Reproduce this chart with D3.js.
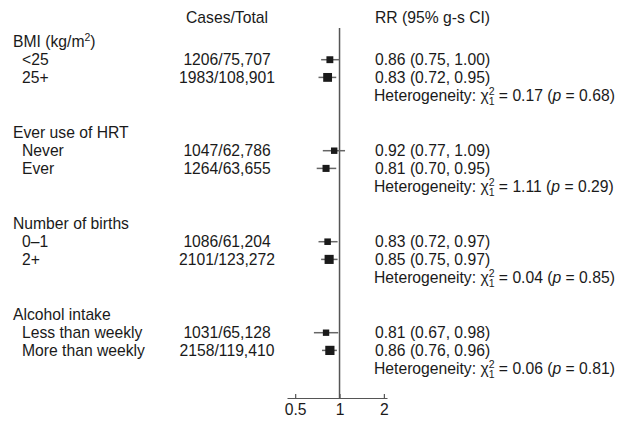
<!DOCTYPE html>
<html>
<head>
<meta charset="utf-8">
<script src="https://cdn.jsdelivr.net/npm/d3@7"></script>
<style>
  body { margin: 0; background: #fff; }
  svg text { font-family: "Liberation Sans", Arial, sans-serif; font-size: 15.7px; fill: #1a1a1a; }
</style>
</head>
<body>
<div id="forest"></div>
<script>
(function() {

const w = 625;
const h = 421;

// data
const groups = ["BMI (kg/m", "Ever use of HRT", "Number of births", "Alcohol intake"];
const labels = [["<25", "25+"], ["Never", "Ever"], ["0\u20131", "2+"], ["Less than weekly", "More than weekly"]];
const cases = [[1206, 1983], [1047, 1264], [1086, 2101], [1031, 2158]];
const totals = [["75,707", "108,901"], ["62,786", "63,655"], ["61,204", "123,272"], ["65,128", "119,410"]];
const rr = [[0.86, 0.83], [0.92, 0.81], [0.83, 0.85], [0.81, 0.86]];
const lower = [[0.75, 0.72], [0.77, 0.70], [0.72, 0.75], [0.67, 0.76]];
const upper = [[1.00, 0.95], [1.09, 0.95], [0.97, 0.97], [0.98, 0.96]];
const chi2 = ["0.17", "1.11", "0.04", "0.06"];
const pvals = ["0.68", "0.29", "0.85", "0.81"];
const ticks = [0.5, 1, 2];

// layout: each group is a header, two rows and a heterogeneity line
const groupTop = 42;
const groupStep = 91;
const rowStep = 17.7;
const yRow = function(g, r) { return groupTop + g * groupStep + r * rowStep; };

var x = d3.scaleLog()
    .domain([0.44, 2.1])
    .range([287, 387]);

var svg = d3.select("#forest")
    .append("svg")
    .attr("width", w)
    .attr("height", h);

var rows = [];
groups.forEach(function(g, gi) {
    labels[gi].forEach(function(l, li) {
        rows.push({
            y: yRow(gi, 1 + li),
            label: l,
            cases: cases[gi][li],
            total: totals[gi][li],
            rr: rr[gi][li],
            lo: lower[gi][li],
            hi: upper[gi][li]
        });
    });
});

// column titles
svg.append("text")
    .attr("x", 227)
    .attr("y", 18)
    .attr("dy", "0.35em")
    .attr("text-anchor", "middle")
    .text("Cases/Total");

svg.append("text")
    .attr("x", 375)
    .attr("y", 18)
    .attr("dy", "0.35em")
    .text("RR (95% g-s CI)");

// group headers
var headers = svg.selectAll("text.header")
    .data(groups)
    .enter()
    .append("text")
    .attr("class", "header")
    .attr("x", 13)
    .attr("y", function(d, i) { return yRow(i, 0); })
    .attr("dy", "0.35em")
    .text(function(d) { return d; });

var bmi = headers.filter(function(d, i) { return i === 0; });
bmi.append("tspan").attr("dy", -6).style("font-size", "10.5px").text("2");
bmi.append("tspan").attr("dy", 6).text(")");

// row labels
svg.selectAll("text.label")
    .data(rows)
    .enter()
    .append("text")
    .attr("class", "label")
    .attr("x", 22)
    .attr("y", function(d) { return d.y; })
    .attr("dy", "0.35em")
    .text(function(d) { return d.label; });

svg.selectAll("text.count")
    .data(rows)
    .enter()
    .append("text")
    .attr("class", "count")
    .attr("x", 227)
    .attr("y", function(d) { return d.y; })
    .attr("dy", "0.35em")
    .attr("text-anchor", "middle")
    .text(function(d) { return d.cases + "/" + d.total; });

svg.selectAll("text.est")
    .data(rows)
    .enter()
    .append("text")
    .attr("class", "est")
    .attr("x", 375)
    .attr("y", function(d) { return d.y; })
    .attr("dy", "0.35em")
    .text(function(d) {
        return d.rr.toFixed(2) + " (" + d.lo.toFixed(2) + ", " + d.hi.toFixed(2) + ")";
    });

// heterogeneity lines
var het = svg.selectAll("text.het")
    .data(groups)
    .enter()
    .append("text")
    .attr("class", "het")
    .attr("x", 374)
    .attr("y", function(d, i) { return yRow(i, 3); })
    .attr("dy", "0.35em");

het.append("tspan").text("Heterogeneity:  \u03c7");
het.append("tspan").attr("dy", -6).style("font-size", "10.5px").text("2");
het.append("tspan").attr("dx", -5.8).attr("dy", 10.5).style("font-size", "10.5px").text("1");
het.append("tspan").attr("dy", -4.5).text(function(d, i) { return " = " + chi2[i] + " ("; });
het.append("tspan").attr("font-style", "italic").text("p");
het.append("tspan").text(function(d, i) { return " = " + pvals[i] + ")"; });

// reference line at 1
var axisY = 398;
svg.append("line")
    .attr("x1", x(1))
    .attr("x2", x(1))
    .attr("y1", 28)
    .attr("y2", axisY)
    .attr("stroke", "#555")
    .attr("stroke-width", 1.5);

// confidence intervals
svg.selectAll("line.ci")
    .data(rows)
    .enter()
    .append("line")
    .attr("class", "ci")
    .attr("x1", function(d) { return x(d.lo); })
    .attr("x2", function(d) { return x(d.hi); })
    .attr("y1", function(d) { return d.y; })
    .attr("y2", function(d) { return d.y; })
    .attr("stroke", "#666")
    .attr("stroke-width", 1.5);

// squares sized by number of cases
var size = d3.scaleSqrt()
    .domain([0, 2200])
    .range([0, 9.3]);

svg.selectAll("rect.est")
    .data(rows)
    .enter()
    .append("rect")
    .attr("class", "est")
    .attr("x", function(d) { return x(d.rr) - size(d.cases) / 2; })
    .attr("y", function(d) { return d.y - size(d.cases) / 2; })
    .attr("width", function(d) { return size(d.cases); })
    .attr("height", function(d) { return size(d.cases); })
    .attr("fill", "#1a1a1a");

// x axis
var axis = d3.axisBottom(x)
    .tickValues(ticks)
    .tickFormat(function(d) { return d; })
    .tickSizeInner(-4)
    .tickSizeOuter(0)
    .tickPadding(6);

var ax = svg.append("g")
    .attr("transform", "translate(0," + axisY + ")")
    .call(axis);

ax.select(".domain").attr("stroke", "#555").attr("stroke-width", 1.2);
ax.selectAll(".tick line").attr("stroke", "#555").attr("stroke-width", 1.2);
ax.selectAll(".tick text")
    .attr("font-size", null)
    .attr("font-family", null)
    .attr("fill", "#1a1a1a");

})();
</script>
</body>
</html>
